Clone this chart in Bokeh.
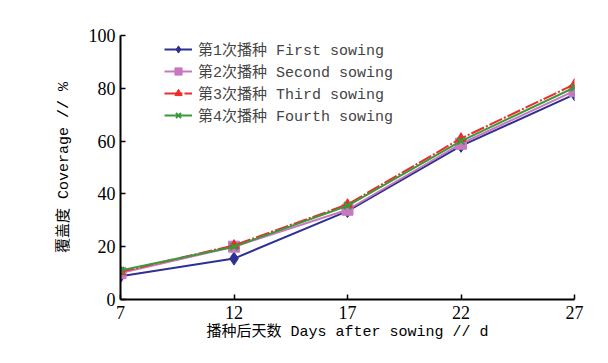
from bokeh.plotting import figure
from bokeh.models import Legend, LegendItem, FixedTicker, Range1d
from bokeh.embed import file_html
from bokeh.resources import INLINE

days = [7, 12, 17, 22, 27]
first = [8.8, 15.5, 33.5, 58.2, 77.7]
second = [10.0, 20.0, 34.0, 59.0, 79.0]
third = [10.5, 20.5, 36.0, 61.0, 81.5]
fourth = [11.0, 20.0, 35.5, 60.0, 80.3]
labels = ["第1次播种 First sowing", "第2次播种 Second sowing",
          "第3次播种 Third sowing", "第4次播种 Fourth sowing"]
y_ticks = [0, 20, 40, 60, 80, 100]

NUM_FONT = "Liberation Serif"
TXT_FONT = "Liberation Mono, Noto Sans CJK SC"

p = figure(width=592, height=347, output_backend="svg", toolbar_location=None,
           x_range=Range1d(7, 27), y_range=Range1d(0, 100),
           min_border_left=120, min_border_top=35, min_border_right=18,
           min_border_bottom=48)
p.outline_line_color = None
p.xgrid.visible = False
p.ygrid.visible = False

for ax in (p.xaxis[0], p.yaxis[0]):
    ax.axis_line_width = 2
    ax.axis_line_color = "black"
    ax.major_tick_in = 5
    ax.major_tick_out = 0
    ax.major_tick_line_width = 1.5
    ax.minor_tick_line_color = None
    ax.major_label_text_font = NUM_FONT
    ax.major_label_text_font_size = "18px"
    ax.major_label_text_color = "black"
    ax.axis_label_text_font = TXT_FONT
    ax.axis_label_text_font_size = "15px"
    ax.axis_label_text_font_style = "normal"
    ax.axis_label_text_color = "black"

p.xaxis.ticker = FixedTicker(ticks=days)
p.yaxis.ticker = FixedTicker(ticks=y_ticks)
p.xaxis.axis_label = "播种后天数 Days after sowing // d"
p.yaxis.axis_label = "覆盖度 Coverage // %"
p.xaxis.major_label_standoff = 6
p.yaxis.major_label_standoff = 5
p.xaxis.axis_label_standoff = 2
p.yaxis.axis_label_standoff = 13

l1 = p.line(days, first, line_color="#2E3192", line_width=2)
m1 = p.scatter(days, first, marker="diamond", size=13, fill_color="#2E3192", line_color="#2E3192")
l2 = p.line(days, second, line_color="#C878C0", line_width=2)
m2 = p.scatter(days, second, marker="square", size=11, fill_color="#C878C0", line_color="#C878C0")
l3 = p.line(days, third, line_color="#EE2A2A", line_width=2, line_dash="14 2 2 2")
m3 = p.scatter(days, third, marker="triangle", size=10, fill_color="#EE2A2A", line_color="#EE2A2A")
l4 = p.line(days, fourth, line_color="#3A9A3A", line_width=2)
m4 = p.scatter(days, fourth, marker="x", size=10, line_color="#3A9A3A", line_width=2)

legend = Legend(items=[
    LegendItem(label=labels[0], renderers=[l1, m1]),
    LegendItem(label=labels[1], renderers=[l2, m2]),
    LegendItem(label=labels[2], renderers=[l3, m3]),
    LegendItem(label=labels[3], renderers=[l4, m4]),
], location=(44, 173), border_line_color=None, background_fill_alpha=0,
    label_text_font=TXT_FONT, label_text_font_size="15px", spacing=0,
    glyph_width=28, label_height=18, glyph_height=18, padding=2, margin=0,
    label_standoff=6)
p.add_layout(legend)

open("out.html", "w").write(file_html(p, INLINE))
